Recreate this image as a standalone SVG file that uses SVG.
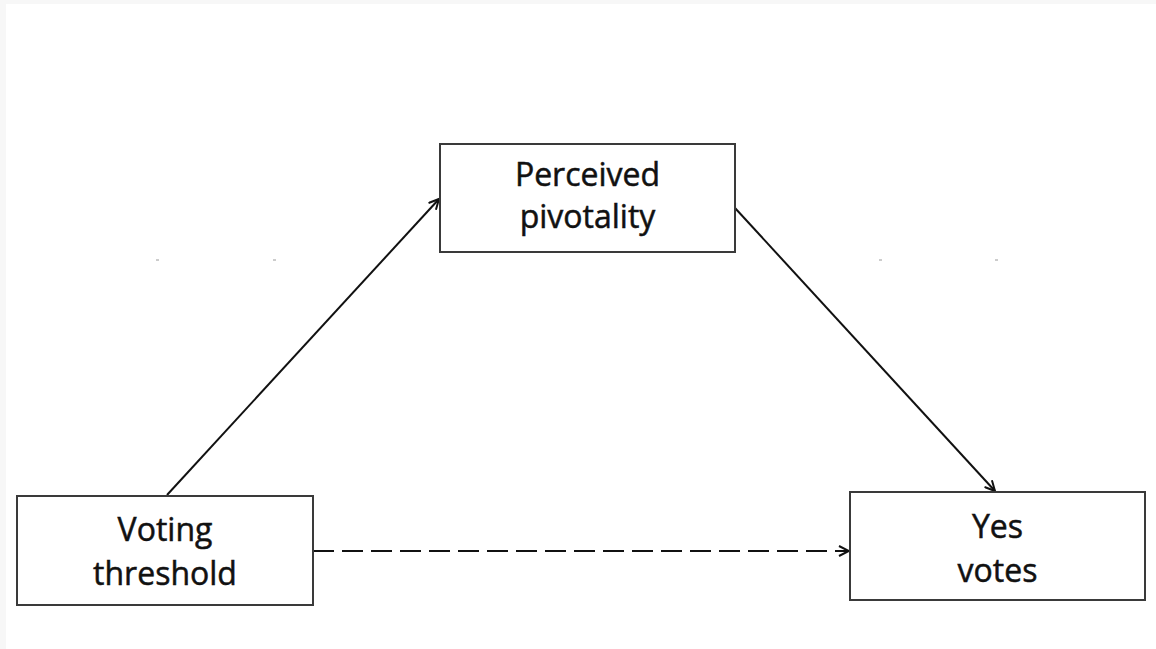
<svg xmlns="http://www.w3.org/2000/svg" width="1156" height="649" viewBox="0 0 1156 649">
  <style>
    .box { fill: #ffffff; stroke: #3a3a3a; stroke-width: 2; }
    .label { font-family: "Open Sans", "Noto Sans", "Liberation Sans", sans-serif; font-size: 32px; fill: #111111; stroke: #111111; stroke-width: 0.5; text-anchor: middle; }
    .edge { fill: none; stroke: #111111; stroke-width: 2; }
    .dashed { stroke-dasharray: 21 8; }
    .tick { stroke: #9a9a9a; stroke-width: 1; }
  </style>
  <defs>
    <marker id="open-arrow" viewBox="0 0 12 12" refX="11" refY="6" markerWidth="12" markerHeight="12" markerUnits="userSpaceOnUse" orient="auto">
      <path d="M1,1 L11,6 L1,11" fill="none" stroke="#111111" stroke-width="2"/>
    </marker>
  </defs>

  <!-- page background with faint frame on the left and top -->
  <rect x="0" y="0" width="1156" height="649" fill="#f7f7f7"/>
  <rect x="6" y="4" width="1150" height="645" fill="#ffffff"/>

  <!-- tiny stray marks -->
  <g id="ticks">
    <line class="tick" x1="156" y1="260" x2="159" y2="260"/>
    <line class="tick" x1="273" y1="260" x2="276" y2="260"/>
    <line class="tick" x1="879" y1="260" x2="882" y2="260"/>
    <line class="tick" x1="995" y1="260" x2="998" y2="260"/>
  </g>

  <g id="connectors">
    <line class="edge" x1="167" y1="495" x2="439" y2="199" marker-end="url(#open-arrow)"/>
    <line class="edge" x1="735" y1="208" x2="995" y2="491" marker-end="url(#open-arrow)"/>
    <line class="edge dashed" x1="313" y1="551" x2="849" y2="551" marker-end="url(#open-arrow)"/>
  </g>

  <g id="node-pivotality">
    <rect class="box" x="440" y="144" width="295" height="108"/>
    <text class="label" x="587.5" y="186">Perceived</text>
    <text class="label" x="587.5" y="228">pivotality</text>
  </g>

  <g id="node-threshold">
    <rect class="box" x="17" y="496" width="296" height="109"/>
    <text class="label" x="165" y="541">Voting</text>
    <text class="label" x="165" y="585">threshold</text>
  </g>

  <g id="node-yes-votes">
    <rect class="box" x="850" y="492" width="295" height="108"/>
    <text class="label" x="997.5" y="538">Yes</text>
    <text class="label" x="997.5" y="582">votes</text>
  </g>
</svg>
